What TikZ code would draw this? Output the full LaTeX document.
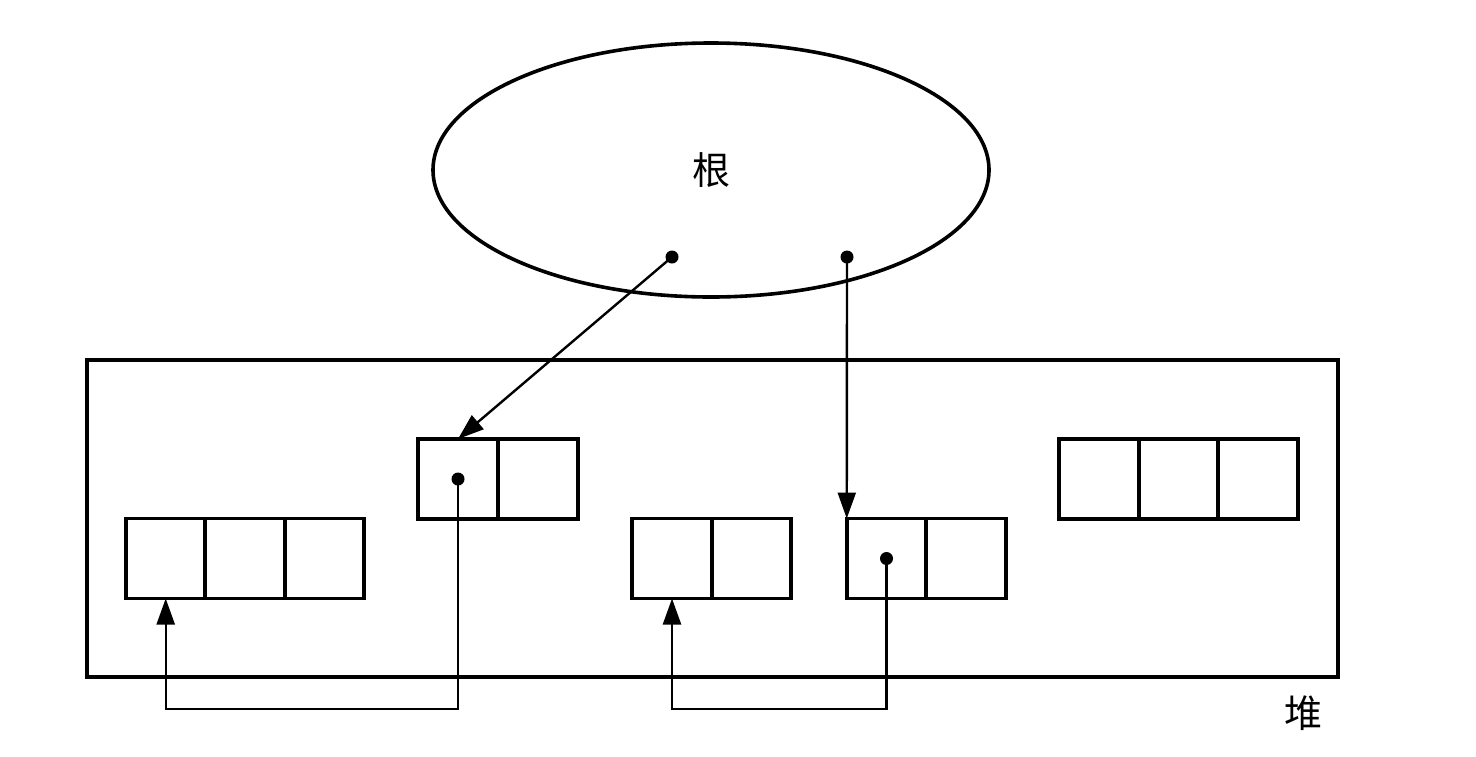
\documentclass[tikz,border=0pt]{standalone}
\usepackage{fontspec}
\newfontfamily\cjk{Noto Sans CJK SC}
\usetikzlibrary{shapes.geometric,arrows.meta,positioning,calc}

\begin{document}
\begin{tikzpicture}[
  x=0.5pt, y=-0.5pt,
  cell/.style={draw, line width=1.8pt, inner sep=0pt, outer sep=0pt,
               minimum width=39.75pt, minimum height=40pt},
  lbl/.style={font=\cjk\fontsize{19}{19}\selectfont, inner sep=0pt},
  dot/.style={fill, circle, inner sep=0pt, minimum size=6.5pt},
  arr/.style={-{Triangle[length=13pt,width=9pt]}, line width=1.2pt}
]
\useasboundingbox (0,0) rectangle (1476,756);

% root set
\node[draw, ellipse, line width=1.8pt, inner sep=0pt,
      minimum width=278pt, minimum height=127pt] (root) at (711,170) {};
\node[lbl] (rootlbl) at (711,170) {根};
\node[dot] (r1) at (672,257) {};
\node[dot] (r2) at (847,257) {};

% heap
\node[draw, line width=1.8pt, inner sep=0pt,
      minimum width=625.5pt, minimum height=158.5pt] (heap) at (712.5,518.5) {};
\node[lbl] (heaplbl) at (1303,713) {堆};

% objects in the heap
\node[cell] (a1) at (165.7,558.5) {};
\node[cell] (a2) at (245,558.5) {};
\node[cell] (a3) at (324.3,558.5) {};
\node[cell] (b1) at (458,479) {};
\node[cell] (b2) at (538,479) {};
\node[cell] (c1) at (672,558.5) {};
\node[cell] (c2) at (751.5,558.5) {};
\node[cell] (d1) at (886.5,558.5) {};
\node[cell] (d2) at (966,558.5) {};
\node[cell] (e1) at (1099,479) {};
\node[cell] (e2) at (1178.7,479) {};
\node[cell] (e3) at (1258,479) {};
\node[dot] (bp) at (b1.center) {};
\node[dot] (dp) at (d1.center) {};

% references
\coordinate (lp) at (0,709);
\draw[arr] (r1.center) -- (b1.north);
\draw[arr] (r2.center) -- (d1.north west);
\draw[arr] (bp.center) -- (bp.center |- lp) -| (a1.south);
\draw[arr] (dp.center) -- (dp.center |- lp) -| (c1.south);
\end{tikzpicture}
\end{document}
